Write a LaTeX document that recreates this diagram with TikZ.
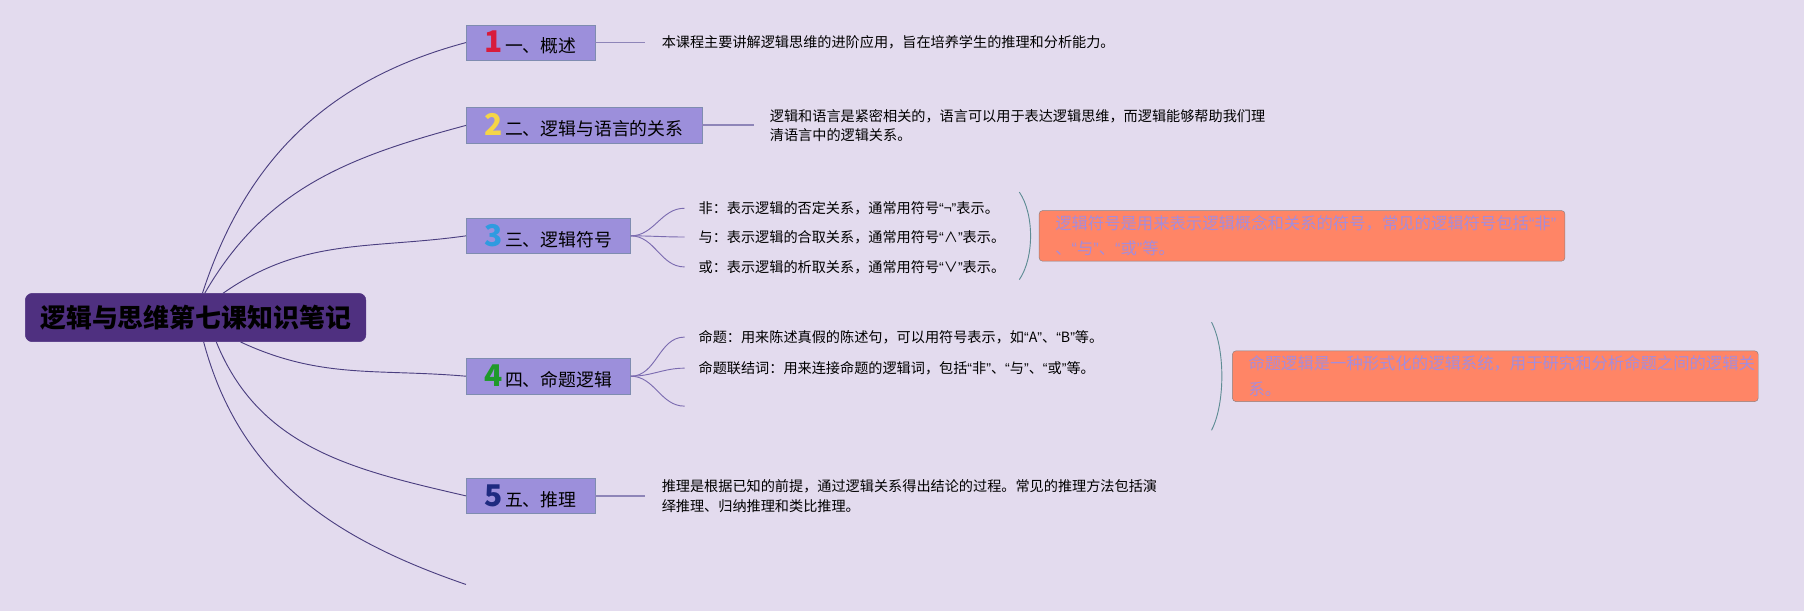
\documentclass[tikz,border=0pt]{standalone}
\usepackage{fontspec}
\setmainfont{Noto Sans CJK SC}
\newfontfamily\westfont{Liberation Sans}
\usepackage{xcolor}
\usepackage{tikz}

\definecolor{bgcol}{HTML}{E3DBEE}
\definecolor{rootfill}{HTML}{4F3080}
\definecolor{topicfill}{HTML}{9C8FDB}
\definecolor{topicborder}{HTML}{7F8CB0}
\definecolor{rootline}{HTML}{4B3F80}
\definecolor{subline}{HTML}{7B6BB0}
\definecolor{noteline}{HTML}{8E85B8}
\definecolor{bracketcol}{HTML}{5E8C94}
\definecolor{sumfill}{HTML}{FF8566}
\definecolor{sumborder}{HTML}{8C8080}
\definecolor{sumtext}{HTML}{A58CDB}
\definecolor{numred}{HTML}{D81B3C}
\definecolor{numyellow}{HTML}{F5D547}
\definecolor{numblue}{HTML}{2F9BE0}
\definecolor{numgreen}{HTML}{1F9A2A}
\definecolor{numnavy}{HTML}{1E2A80}

\newcommand{\topicnum}{\fontsize{26}{26}\selectfont\bfseries}
\newcommand{\quo}[1]{{\westfont “}#1{\westfont ”}}

\begin{document}
\begin{tikzpicture}[x=1pt,y=1pt]
    \tikzstyle{rootbox} = [draw=rootfill, fill=rootfill, rounded corners=6pt, minimum width=296pt, minimum height=42pt, font=\fontsize{22.5}{24}\selectfont\bfseries]
    \tikzstyle{topic} = [draw=topicborder, fill=topicfill, anchor=west, inner xsep=16pt, inner ysep=4pt, minimum height=31pt, font=\fontsize{15.5}{18}\selectfont]
    \tikzstyle{note} = [anchor=west, align=left, inner xsep=14pt, inner ysep=0pt, font=\fontsize{12.3}{17}\selectfont]
    \tikzstyle{leaf} = [anchor=west, inner xsep=12pt, inner ysep=0pt, font=\fontsize{12.3}{17}\selectfont]
    \tikzstyle{sumbox} = [draw=sumborder, fill=sumfill, text=sumtext, anchor=west, rounded corners=3pt, text width=429pt, align=left, inner xsep=14pt, minimum height=44pt, font=\fontsize{14.2}{22}\selectfont]
    \tikzstyle{rootedge} = [draw=rootline, line width=0.8pt]
    \tikzstyle{subedge} = [draw=subline, line width=0.8pt]
    \tikzstyle{noteedge} = [draw=noteline, line width=1.6pt]
    \tikzstyle{bracket} = [draw=bracketcol, line width=0.8pt]

    \fill[bgcol] (0,0) rectangle (1568,531);
    \useasboundingbox (0,0) rectangle (1568,531);

    \node[rootbox] (root) at (170,255) {逻辑与思维第七课知识笔记};

    \foreach \i/\y/\col/\txt in {1/494/numred/一、概述, 2/422/numyellow/二、逻辑与语言的关系, 3/326/numblue/三、逻辑符号, 4/204/numgreen/四、命题逻辑, 5/100/numnavy/五、推理} {
        \node[topic] (t\i) at (405,\y) {{\topicnum\textcolor{\col}{\i}}\kern2pt\txt};
    }
    \coordinate (t6) at (405,23);

    % branches from the root
    \foreach \i/\dx/\side/\o/\n in {1/6/north/72/195, 2/8/north/60/195, 3/24/north/35/188, 4/39/south/-25/175, 5/18/south/-68/167} {
        \draw[rootedge] ([xshift=\dx pt]root.\side) to[out=\o,in=\n] (t\i.west);
    }
    \draw[rootedge] ([xshift=7pt]root.south) to[out=-75,in=161] (t6);

    % notes
    \node[note] (n1) at (561,494) {本课程主要讲解逻辑思维的进阶应用，旨在培养学生的推理和分析能力。};
    \node[note] (n2) at (655,422) {逻辑和语言是紧密相关的，语言可以用于表达逻辑思维，而逻辑能够帮助我们理\\清语言中的逻辑关系。};
    \node[note] (n5) at (561,100) {推理是根据已知的前提，通过逻辑关系得出结论的过程。常见的推理方法包括演\\绎推理、归纳推理和类比推理。};
    \foreach \i in {1,2,5} {
        \draw[noteedge] (t\i.east) -- (n\i.west);
    }

    % sub topics
    \foreach \j/\y/\txt in {1/350/非：表示逻辑的否定关系，通常用符号\quo{¬}表示。, 2/325/与：表示逻辑的合取关系，通常用符号\quo{∧}表示。, 3/299/或：表示逻辑的析取关系，通常用符号\quo{∨}表示。} {
        \node[leaf] (l3\j) at (595,\y) {\txt};
        \draw[subedge] (t3.east) to[out=0,in=180] (l3\j.west);
    }
    \foreach \j/\y/\txt in {1/238/命题：用来陈述真假的陈述句，可以用符号表示，如\quo{A}、\quo{B}等。, 2/211/命题联结词：用来连接命题的逻辑词，包括\quo{非}、\quo{与}、\quo{或}等。} {
        \node[leaf] (l4\j) at (595,\y) {\txt};
        \draw[subedge] (t4.east) to[out=0,in=180] (l4\j.west);
    }
    \coordinate (l43) at (595,178);
    \draw[subedge] (t4.east) to[out=0,in=180] (l43);

    % summaries
    \coordinate (b3a) at (886,364);
    \coordinate (b3b) at (886,288);
    \draw[bracket] (b3a) .. controls (899,345) and (899,307) .. (b3b);
    \node[sumbox] (s3) at (903,326) {逻辑符号是用来表示逻辑概念和关系的符号，常见的逻辑符号包括\quo{非}\\、\quo{与}、\quo{或}等。};

    \coordinate (b4a) at (1053,251);
    \coordinate (b4b) at (1053,157);
    \draw[bracket] (b4a) .. controls (1065,228) and (1065,180) .. (b4b);
    \node[sumbox] (s4) at (1071,204) {命题逻辑是一种形式化的逻辑系统，用于研究和分析命题之间的逻辑关\\系。};
\end{tikzpicture}
\end{document}
